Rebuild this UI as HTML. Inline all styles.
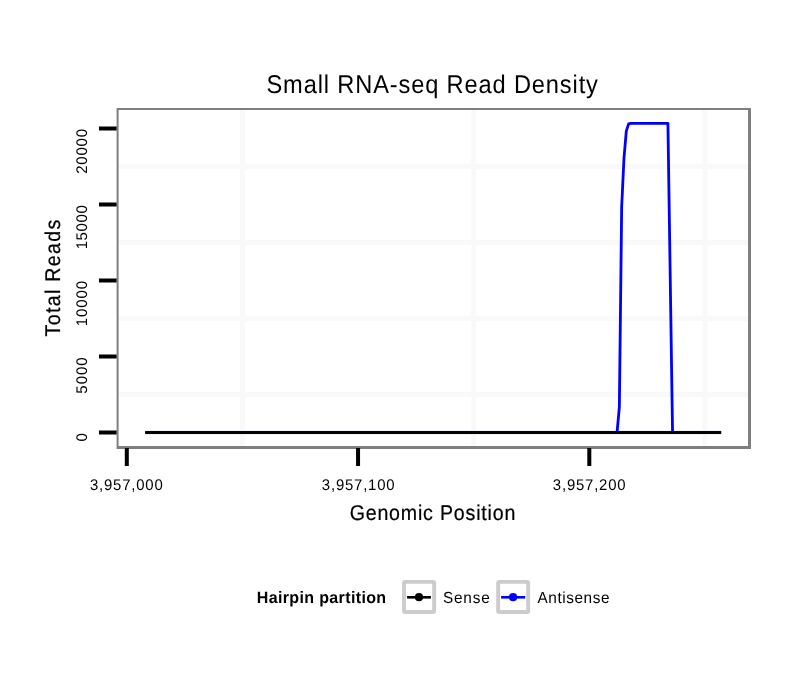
<!DOCTYPE html>
<html>
<head>
<meta charset="utf-8">
<style>
html,body{margin:0;padding:0;background:#fff;width:810px;height:690px;overflow:hidden;}
svg{display:block;will-change:transform;}
text{font-family:"Liberation Sans", sans-serif;fill:#000;text-rendering:geometricPrecision;}
</style>
</head>
<body>
<svg width="810" height="690" viewBox="0 0 810 690">
<rect x="0" y="0" width="810" height="690" fill="#fff"/>
<text transform="translate(432.19,93.0) scale(0.92,1)" font-size="25.7" text-anchor="middle" textLength="360.23" lengthAdjust="spacing">Small RNA-seq Read Density</text>
<g fill="#f9f9f9">
<rect x="119" y="164.0" width="629" height="5"/>
<rect x="119" y="240.0" width="629" height="5"/>
<rect x="119" y="316.0" width="629" height="5"/>
<rect x="119" y="392.0" width="629" height="5"/>
<rect x="239.92" y="110" width="5" height="336"/>
<rect x="471.17" y="110" width="5" height="336"/>
<rect x="702.42" y="110" width="5" height="336"/>
</g>
<rect x="145.30" y="430" width="575.81" height="5" fill="#f0f0f7"/>
<polyline fill="none" stroke="#0000ff" stroke-width="2.8" stroke-linejoin="round" stroke-linecap="butt" points="145.30,432.50 617.05,432.50 619.36,407.00 621.67,207.00 623.99,158.00 626.30,131.20 628.61,123.90 630.92,123.30 667.92,123.40 672.55,432.50 721.11,432.50"/>
<rect x="145.30" y="431" width="575.81" height="3" fill="#00001c"/>
<rect x="145.30" y="432" width="575.81" height="1" fill="#000"/>
<g fill="#7f7f7f">
<rect x="117" y="108" width="634" height="2"/>
<rect x="116.6" y="108" width="2" height="341"/>
<rect x="748" y="108" width="3" height="341"/>
<rect x="117" y="446" width="634" height="3"/>
</g>
<g fill="#000">
<rect x="99" y="430.50" width="17.6" height="4"/>
<rect x="99" y="354.50" width="17.6" height="4"/>
<rect x="99" y="278.50" width="17.6" height="4"/>
<rect x="99" y="202.50" width="17.6" height="4"/>
<rect x="99" y="126.50" width="17.6" height="4"/>
<rect x="124.80" y="448" width="4" height="18"/>
<rect x="356.05" y="448" width="4" height="18"/>
<rect x="587.30" y="448" width="4" height="18"/>
</g>
<text transform="translate(86.9,151.39) rotate(-90) scale(0.97,1)" font-size="15.4" text-anchor="middle" textLength="46.18" lengthAdjust="spacing">20000</text>
<text transform="translate(86.9,227.26) rotate(-90) scale(0.97,1)" font-size="15.4" text-anchor="middle" textLength="45.59" lengthAdjust="spacing">15000</text>
<text transform="translate(86.9,303.61) rotate(-90) scale(0.97,1)" font-size="15.4" text-anchor="middle" textLength="46.56" lengthAdjust="spacing">10000</text>
<text transform="translate(86.9,375.51) rotate(-90) scale(0.97,1)" font-size="15.4" text-anchor="middle" textLength="37.40" lengthAdjust="spacing">5000</text>
<text transform="translate(86.9,437.41) rotate(-90) scale(0.97,1)" font-size="15.4" text-anchor="middle" textLength="10.58" lengthAdjust="spacing">0</text>
<text transform="translate(126.32,489.5) scale(0.97,1)" font-size="15.4" text-anchor="middle" textLength="75.13" lengthAdjust="spacing">3,957,000</text>
<text transform="translate(358.23,489.5) scale(0.97,1)" font-size="15.4" text-anchor="middle" textLength="75.02" lengthAdjust="spacing">3,957,100</text>
<text transform="translate(589.23,489.5) scale(0.97,1)" font-size="15.4" text-anchor="middle" textLength="75.02" lengthAdjust="spacing">3,957,200</text>
<text transform="translate(432.49,519.5) scale(0.92,1)" font-size="21.3" text-anchor="middle" textLength="180.12" lengthAdjust="spacing" stroke="#000" stroke-width="0.22">Genomic Position</text>
<text transform="translate(60.2,278.11) rotate(-90) scale(0.92,1)" font-size="21.3" text-anchor="middle" textLength="126.76" lengthAdjust="spacing" stroke="#000" stroke-width="0.22">Total Reads</text>
<text transform="translate(321.43,603.1) scale(0.97,1)" font-size="16.5" font-weight="bold" text-anchor="middle" textLength="133.48" lengthAdjust="spacing">Hairpin partition</text>
<rect x="404" y="581.9" width="30.15" height="30.15" fill="#fff" stroke="#cccccc" stroke-width="3.9" rx="1"/>
<rect x="407.1" y="596" width="23.8" height="2.6" fill="#000"/>
<circle cx="419" cy="597.2" r="4.1" fill="#000"/>
<text transform="translate(466.29,603.1) scale(0.96,1)" font-size="16" text-anchor="middle" textLength="48.79" lengthAdjust="spacing">Sense</text>
<rect x="498.15" y="581.9" width="30" height="30.15" fill="#fff" stroke="#cccccc" stroke-width="3.9" rx="1"/>
<rect x="501.1" y="596" width="24.1" height="2.6" fill="#0000ff"/>
<circle cx="513.1" cy="597.2" r="4.1" fill="#0000ff"/>
<text transform="translate(573.49,602.8) scale(0.96,1)" font-size="16" text-anchor="middle" textLength="75.08" lengthAdjust="spacing">Antisense</text>
</svg>
</body>
</html>
